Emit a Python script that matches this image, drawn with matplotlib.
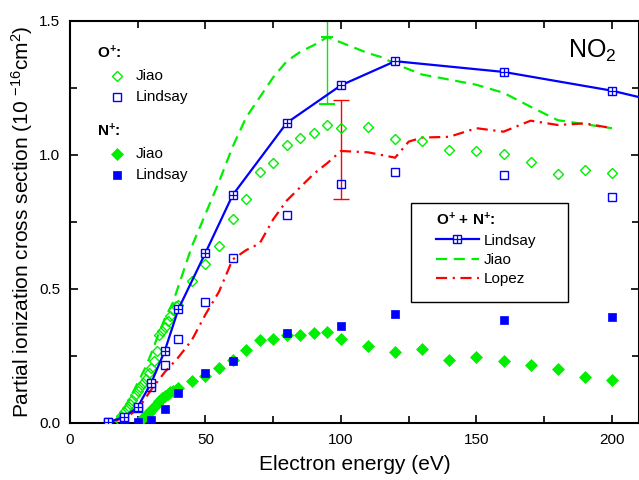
import matplotlib
matplotlib.use('Agg')
import matplotlib.pyplot as plt
from matplotlib.lines import Line2D
from matplotlib.patches import Rectangle
from matplotlib.legend_handler import HandlerTuple
from matplotlib.ticker import MultipleLocator

plt.rcParams['font.family'] = ['Liberation Sans', 'DejaVu Sans']
plt.rcParams['mathtext.fontset'] = 'custom'
plt.rcParams['mathtext.rm'] = 'Liberation Sans'
plt.rcParams['mathtext.default'] = 'regular'

# ---------------- data ----------------
# Lindsay (O+ + N+ total, O+, N+)
lind_tot_e = [14, 20, 25, 30, 35, 40, 50, 60, 80, 100, 120, 160, 200, 250]
lind_tot = [0.003, 0.022, 0.06, 0.15, 0.27, 0.425, 0.635, 0.85, 1.12, 1.26, 1.35, 1.31, 1.24, 1.12]
lind_e = [14, 20, 25, 30, 35, 40, 50, 60, 80, 100, 120, 160, 200]
lind_op = [0.002, 0.02, 0.055, 0.135, 0.216, 0.314, 0.45, 0.614, 0.776, 0.89, 0.935, 0.925, 0.842]
lind_np = [0.002, 0.002, 0.003, 0.012, 0.052, 0.111, 0.185, 0.231, 0.335, 0.362, 0.405, 0.384, 0.394]

# Jiao O+ (open diamonds)
jiao_op_e = [18, 19, 20, 21, 22, 23, 24, 25, 26, 27, 28, 29, 30, 31, 32, 33, 34, 35, 36, 37, 38, 39, 40,
             45, 50, 55, 60, 65, 70, 75, 80, 85, 90, 95, 100,
             110, 120, 130, 140, 150, 160, 170, 180, 190, 200]
jiao_op = [0.01, 0.025, 0.04, 0.055, 0.07, 0.085, 0.105, 0.12, 0.135, 0.15, 0.165, 0.185, 0.205, 0.23, 0.27,
           0.33, 0.345, 0.36, 0.38, 0.40, 0.42, 0.435, 0.44,
           0.53, 0.595, 0.66, 0.76, 0.835, 0.937, 0.97, 1.037, 1.063, 1.082, 1.112, 1.10,
           1.104, 1.06, 1.052, 1.019, 1.015, 1.004, 0.974, 0.929, 0.944, 0.933]

# Jiao N+ (filled diamonds)
jiao_np_e = [26, 27, 28, 29, 30, 31, 32, 33, 34, 35, 36, 37, 38, 39, 40,
             45, 50, 55, 60, 65, 70, 75, 80, 85, 90, 95, 100,
             110, 120, 130, 140, 150, 160, 170, 180, 190, 200]
jiao_np = [0.008, 0.018, 0.028, 0.038, 0.05, 0.06, 0.072, 0.082, 0.092, 0.10, 0.108, 0.114, 0.12, 0.125, 0.13,
           0.157, 0.175, 0.204, 0.235, 0.272, 0.31, 0.312, 0.328, 0.328, 0.337, 0.341, 0.312,
           0.287, 0.264, 0.275, 0.235, 0.247, 0.231, 0.216, 0.201, 0.173, 0.16]

# Jiao total (dashed)
jiao_tot_e = [16, 18, 20, 22, 25, 28, 30, 33, 35, 38, 40, 45, 50, 55, 60, 65, 70, 75, 80, 85, 90, 95,
              100, 105, 110, 115, 120, 130, 137, 150, 160, 170, 180, 190, 200]
jiao_tot = [0.0, 0.02, 0.055, 0.09, 0.15, 0.21, 0.26, 0.34, 0.39, 0.45, 0.51, 0.66, 0.78, 0.90, 1.03, 1.14,
            1.215, 1.29, 1.35, 1.385, 1.41, 1.44, 1.42, 1.40, 1.38, 1.365, 1.34, 1.30, 1.287, 1.262, 1.232,
            1.18, 1.13, 1.115, 1.10]

# Lopez total (dash-dot)
lopez_e = [14, 20, 25, 30, 35, 40, 45, 50, 55, 60, 65, 70, 75, 80, 85, 90, 95, 100, 110, 120, 125,
           130, 140, 150, 160, 170, 180, 190, 200]
lopez = [0.0, 0.017, 0.05, 0.125, 0.19, 0.245, 0.31, 0.405, 0.49, 0.61, 0.645, 0.67, 0.76, 0.83, 0.88,
         0.93, 0.97, 1.015, 1.01, 0.99, 1.05, 1.065, 1.068, 1.10, 1.087, 1.128, 1.112, 1.118, 1.10]

# error bars
err_jiao_e, err_jiao_v, err_jiao_d = [95], [1.44], [0.25]
err_lopez_e, err_lopez_v, err_lopez_d = [100], [1.02], [0.185]

BLUE = '#0000ff'
GREEN = '#00ee00'
RED = '#ff0000'

W, H = 639, 480
fig = plt.figure(figsize=(6.39, 4.8), dpi=100)
ax = fig.add_axes([70 / W, 1 - 423 / H, 569 / W, 402 / H])

dash = (0, (5, 3))
dashdot = (0, (5, 2.5, 1, 2.5))

ax.plot(jiao_tot_e, jiao_tot, color=GREEN, lw=1.6, ls=dash, zorder=2)
ax.plot(lopez_e, lopez, color=RED, lw=1.6, ls=dashdot, zorder=2)

ax.plot(jiao_op_e, jiao_op, ls='none', marker='D', ms=5.5, mfc='none', mec=GREEN, mew=1.0, zorder=3)
ax.plot(lind_e, lind_op, ls='none', marker='s', ms=6, mfc='none', mec=BLUE, mew=1.0, zorder=3)
ax.plot(jiao_np_e, jiao_np, ls='none', marker='D', ms=6, mfc=GREEN, mec=GREEN, mew=0.5, zorder=3)
ax.plot(lind_e, lind_np, ls='none', marker='s', ms=6, mfc=BLUE, mec=BLUE, mew=0.5, zorder=3)

ax.plot(lind_tot_e, lind_tot, color=BLUE, lw=1.6, marker='s', ms=6, mfc='white', mec=BLUE, mew=1.0, zorder=4)
ax.plot(lind_tot_e, lind_tot, ls='none', marker='+', ms=6, color=BLUE, mew=0.9, zorder=5)

ax.errorbar(err_jiao_e, err_jiao_v, yerr=[err_jiao_d, err_jiao_d], color=GREEN, lw=1.0,
            capsize=5.5, capthick=1.0, marker='_', ms=9, mew=1.5, zorder=2)
ax.errorbar(err_lopez_e, err_lopez_v, yerr=[err_lopez_d, err_lopez_d], fmt='none', ecolor=RED,
            elinewidth=1.0, capsize=5.5, capthick=1.0, zorder=2)

ax.set_xlim(0, 210)
ax.set_ylim(0, 1.5)
ax.xaxis.set_major_locator(MultipleLocator(50))
ax.xaxis.set_minor_locator(MultipleLocator(25))
ax.yaxis.set_major_locator(MultipleLocator(0.5))
ax.yaxis.set_minor_locator(MultipleLocator(0.25))
ax.yaxis.set_major_formatter(matplotlib.ticker.FormatStrFormatter('%.1f'))
ax.tick_params(which='both', direction='in', top=True, right=True, labelsize=11, width=1.2)
ax.tick_params(which='major', length=6, pad=7)
ax.tick_params(which='minor', length=5)
for s in ax.spines.values():
    s.set_linewidth(1.5)

ax.set_xlabel('Electron energy (eV)', fontsize=15, labelpad=6)
ax.set_ylabel(r'Partial ionization cross section (10 $^{-16}$cm$^{2}$)', fontsize=15, labelpad=3)

# NO2 label
fig.text(568 / W, 1 - 51 / H, r'NO$_2$', fontsize=18, ha='left', va='center')

# ---- left legend (manual) ----
def fx(px):
    return px / W

def fy(py):
    return 1 - py / H

fs = 11
fig.text(fx(97), fy(53), r'O$^{+}$:', fontsize=fs, fontweight='bold', ha='left', va='center')
fig.add_artist(Line2D([fx(117)], [fy(76)], transform=fig.transFigure, ls='none', marker='D', ms=5.5,
                      mfc='none', mec=GREEN, mew=1.0))
fig.text(fx(136), fy(76), 'Jiao', fontsize=fs, ha='left', va='center')
fig.add_artist(Line2D([fx(117)], [fy(97)], transform=fig.transFigure, ls='none', marker='s', ms=5.5,
                      mfc='none', mec=BLUE, mew=1.0))
fig.text(fx(136), fy(97), 'Lindsay', fontsize=fs, ha='left', va='center')
fig.text(fx(97), fy(131), r'N$^{+}$:', fontsize=fs, fontweight='bold', ha='left', va='center')
fig.add_artist(Line2D([fx(117)], [fy(154)], transform=fig.transFigure, ls='none', marker='D', ms=6.5,
                      mfc=GREEN, mec=GREEN, mew=0.5))
fig.text(fx(136), fy(154), 'Jiao', fontsize=fs, ha='left', va='center')
fig.add_artist(Line2D([fx(117)], [fy(175)], transform=fig.transFigure, ls='none', marker='s', ms=6,
                      mfc=BLUE, mec=BLUE, mew=0.5))
fig.text(fx(136), fy(175), 'Lindsay', fontsize=fs, ha='left', va='center')

# ---- right legend ----
h_lind = (Line2D([], [], color=BLUE, lw=1.6, marker='s', ms=6, mfc='white', mec=BLUE, mew=1.0),
          Line2D([], [], ls='none', marker='+', ms=6, color=BLUE, mew=0.9))
h_jiao = Line2D([], [], color=GREEN, lw=1.6, ls=dash)
h_lopez = Line2D([], [], color=RED, lw=1.6, ls=dashdot)
leg = ax.legend([h_lind, h_jiao, h_lopez], ['Lindsay', 'Jiao', 'Lopez'],
                handler_map={tuple: HandlerTuple(ndivide=1, pad=0)},
                title=r'O$^{+}$ + N$^{+}$:', title_fontproperties={'size': fs, 'weight': 'bold'},
                fontsize=fs, frameon=False, loc='upper left',
                bbox_to_anchor=(fx(436), fy(211)), bbox_transform=fig.transFigure,
                borderpad=0, borderaxespad=0, handlelength=2.8, handletextpad=0.3,
                labelspacing=0.35, alignment='left')
fig.add_artist(Rectangle((fx(411), fy(302)), (568 - 411) / W, (302 - 203) / H,
                         transform=fig.transFigure, fill=False, ec='black', lw=1.0, zorder=10))

fig.savefig('out.png', dpi=100)
